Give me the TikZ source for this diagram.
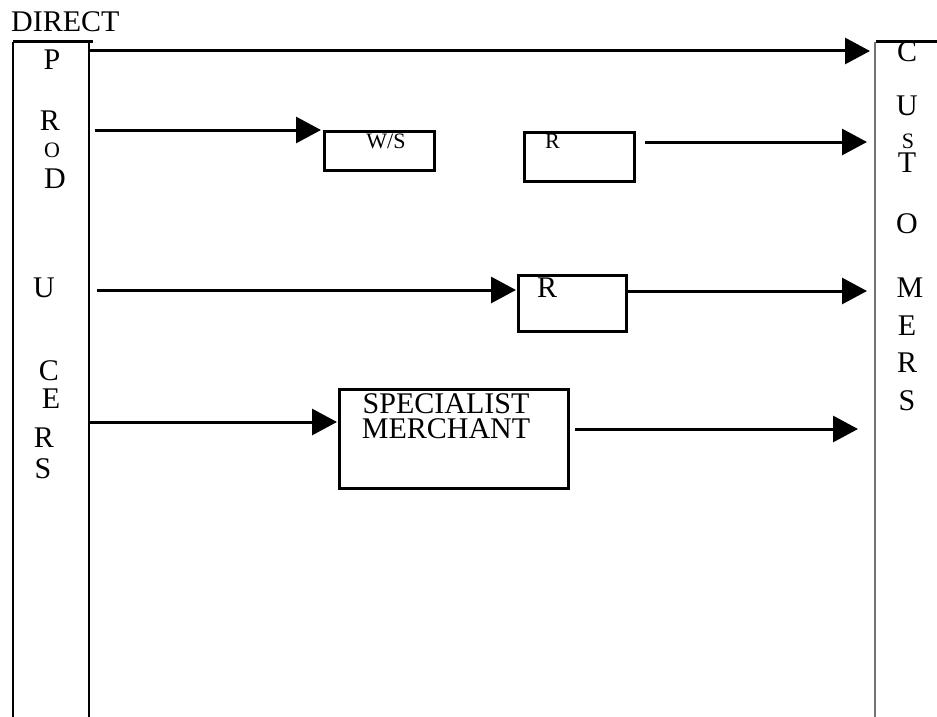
\documentclass[tikz,border=0pt]{standalone}
\usepackage{fontspec}
\setmainfont{Liberation Serif}
\usetikzlibrary{arrows.meta}
\begin{document}
\begin{tikzpicture}[x=1pt,y=-1pt,
  flow/.style={line width=3pt,-{Triangle[length=25pt,width=26pt]}},
  colline/.style={line width=1.8pt},
  box/.style={draw,line width=3pt,inner sep=0pt,anchor=north west},
  big/.style={font=\fontsize{30}{30}\selectfont,inner sep=0pt,anchor=base,text depth=0pt},
  small/.style={font=\fontsize{22}{22}\selectfont,inner sep=0pt,anchor=base,text depth=0pt},
]
\useasboundingbox (0,0) rectangle (937,717);

% title
\node[big,anchor=base west] (direct) at (11,32) {DIRECT};

% producers column
\coordinate (pTL) at (13,42);
\coordinate (pTR) at (93,42);
\coordinate (pBL) at (13,717);
\coordinate (pR) at (89,42);
\coordinate (pBR) at (89,717);
\draw[colline] (pTL) -- (pBL);
\draw[colline] (pR) -- (pBR);
\draw[line width=3pt] (pTL) -- (pTR);

% customers column
\coordinate (cTL) at (875,42);
\coordinate (cB) at (875,717);
\coordinate (cTR) at (937,42);
\coordinate (cTS) at (876,42);
\draw[colline,draw=black!55] (cTL) -- (cB);
\draw[line width=3pt] (cTS) -- (cTR);

% producer letters
\node[big] (pP) at (52,70) {P};
\node[big] (pR1) at (50,130) {R};
\node[small] (pO) at (52,157) {O};
\node[big] (pD) at (55,188) {D};
\node[big] (pU) at (44,297) {U};
\node[big] (pC) at (49,380) {C};
\node[big] (pE) at (51,408) {E};
\node[big] (pR2) at (44,447) {R};
\node[big] (pS) at (43,478) {S};

% customer letters
\node[big] (cC) at (907,62) {C};
\node[big] (cU) at (907,115) {U};
\node[small] (cS1) at (908,148) {S};
\node[big] (cT) at (907,172) {T};
\node[big] (cO) at (907,233) {O};
\node[big] (cM) at (910,297) {M};
\node[big] (cE) at (907,335) {E};
\node[big] (cR) at (907,372) {R};
\node[big] (cS2) at (907,410) {S};

% boxes
\node[box,minimum width=110pt,minimum height=39pt] (ws) at (323,130) {};
\node[small,anchor=base] (wst) at (386,148) {W/S};
\node[box,minimum width=110pt,minimum height=49pt] (r1) at (523,131) {};
\node[small,anchor=base west] (r1t) at (545,148) {R};
\node[box,minimum width=108pt,minimum height=56pt] (r2) at (517,274) {};
\node[big,anchor=base west] (r2t) at (537,297) {R};
\node[box,minimum width=229pt,minimum height=99pt] (sm) at (338,388) {};
\node[font=\fontsize{30}{25}\selectfont,inner sep=0pt,align=center,anchor=base] (smt) at (446,438) {SPECIALIST\\MERCHANT};

% connector end points
\coordinate (a1s) at (90,51);
\coordinate (a1e) at (870,51);
\coordinate (a2s) at (95,130);
\coordinate (a2e) at (321,130);
\coordinate (a3s) at (645,142);
\coordinate (a3e) at (867,142);
\coordinate (a4s) at (97,290);
\coordinate (a4e) at (516,290);
\coordinate (a5s) at (628,291);
\coordinate (a5e) at (867,291);
\coordinate (a6s) at (89,422);
\coordinate (a6e) at (337,422);
\coordinate (a7s) at (575,429);
\coordinate (a7e) at (858,429);

\draw[flow] (a1s) -- (a1e);
\draw[flow] (a2s) -- (a2e);
\draw[flow] (a3s) -- (a3e);
\draw[flow] (a4s) -- (a4e);
\draw[flow] (a5s) -- (a5e);
\draw[flow] (a6s) -- (a6e);
\draw[flow] (a7s) -- (a7e);
\end{tikzpicture}
\end{document}
